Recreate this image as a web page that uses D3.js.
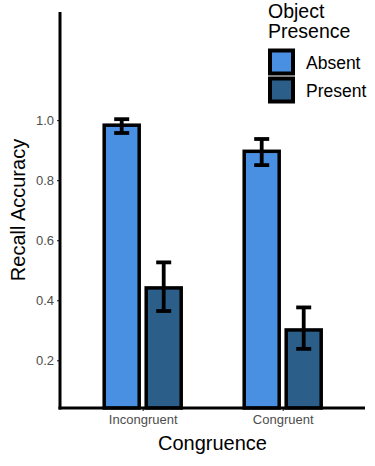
<!DOCTYPE html>
<html>
<head>
<meta charset="utf-8">
<script src="https://cdn.jsdelivr.net/npm/d3@7"></script>
<style>
  body { margin: 0; background: #fff; }
  svg { display: block; font-family: "Liberation Sans", Arial, sans-serif; }
</style>
</head>
<body>
<div id="chart"></div>
<script>
// data
const categories = ["Incongruent", "Congruent"];
const groups = ["Absent", "Present"];
const means = [[0.983, 0.441], [0.896, 0.301]];     // [category][group]
const upper = [[1.003, 0.526], [0.937, 0.376]];
const lower = [[0.957, 0.364], [0.850, 0.238]];
const yTicks = [0.2, 0.4, 0.6, 0.8, 1.0];
const colors = ["#4a90e2", "#2c5e8a"];

const width = 375, height = 466;
const plotLeft = 60, plotRight = 366.7, plotTop = 12, plotBottom = 408;

const svg = d3.select("#chart").append("svg")
    .attr("width", width)
    .attr("height", height);

const x = d3.scalePoint().domain(categories).range([58.7, plotRight]).padding(0.6);
const step = x.step();
const dodge = d3.scaleBand().domain(groups).range([-0.3 * step, 0.3 * step]);
const barW = 0.25 * step;

const y = d3.scaleLinear().domain([0.041, 1.36]).range([plotBottom, plotTop]);

// bars + error bars
const rows = [];
categories.forEach((c, i) => groups.forEach((g, j) => {
    rows.push({ cat: c, grp: g, m: means[i][j], hi: upper[i][j], lo: lower[i][j], col: colors[j] });
}));

const cx = d => x(d.cat) + dodge(d.grp) + dodge.bandwidth() / 2;

svg.append("g").selectAll("rect")
    .data(rows)
    .enter().append("rect")
    .attr("x", d => cx(d) - barW / 2)
    .attr("y", d => y(d.m))
    .attr("width", barW)
    .attr("height", d => plotBottom - y(d.m))
    .attr("fill", d => d.col)
    .attr("stroke", "#000")
    .attr("stroke-width", 3.5);

const err = svg.append("g").attr("stroke", "#000").attr("stroke-width", 3.8);
rows.forEach(d => {
    const c = cx(d), w = 7.5;
    err.append("line").attr("x1", c).attr("x2", c).attr("y1", y(d.hi)).attr("y2", y(d.lo));
    err.append("line").attr("x1", c - w).attr("x2", c + w).attr("y1", y(d.hi)).attr("y2", y(d.hi));
    err.append("line").attr("x1", c - w).attr("x2", c + w).attr("y1", y(d.lo)).attr("y2", y(d.lo));
});

// y axis
const yAxis = svg.append("g")
    .attr("transform", `translate(${plotLeft},0)`)
    .call(d3.axisLeft(y).tickValues(yTicks).tickFormat(d3.format(".1f")).tickSize(3).tickPadding(3));
yAxis.select(".domain").remove();
yAxis.selectAll(".tick line").attr("stroke", "#333").attr("stroke-width", 1.2);
yAxis.selectAll(".tick text").attr("fill", "#4d4d4d").style("font-size", "13px")
    .style("font-family", "Liberation Sans, Arial, sans-serif");

// x axis
const xAxis = svg.append("g")
    .attr("transform", `translate(0,${plotBottom})`)
    .call(d3.axisBottom(x).tickSize(3).tickPadding(4));
xAxis.select(".domain").remove();
xAxis.selectAll(".tick line").attr("stroke", "#333").attr("stroke-width", 1.2);
xAxis.selectAll(".tick text").attr("fill", "#4d4d4d").style("font-size", "13px")
    .style("font-family", "Liberation Sans, Arial, sans-serif");

// axis lines
svg.append("line").attr("x1", plotLeft).attr("x2", plotLeft).attr("y1", plotTop).attr("y2", plotBottom + 1.5)
    .attr("stroke", "#000").attr("stroke-width", 3);
svg.append("line").attr("x1", plotLeft - 1.5).attr("x2", 365).attr("y1", plotBottom).attr("y2", plotBottom)
    .attr("stroke", "#000").attr("stroke-width", 3);

// axis titles
svg.append("text")
    .attr("x", (plotLeft + 365) / 2).attr("y", 450)
    .attr("text-anchor", "middle")
    .style("font-size", "20px")
    .text("Congruence");

svg.append("text")
    .attr("transform", `translate(25,${(plotTop + plotBottom) / 2}) rotate(-90)`)
    .attr("text-anchor", "middle")
    .style("font-size", "20px")
    .text("Recall Accuracy");

// legend
const legend = svg.append("g").attr("transform", "translate(268,0)");
legend.append("text").attr("x", 0).attr("y", 17.5).style("font-size", "19.5px").text("Object");
legend.append("text").attr("x", 0).attr("y", 38).style("font-size", "19.5px").text("Presence");

groups.forEach((g, i) => {
    const yy = 48.5 + i * 28;
    legend.append("rect")
        .attr("x", 2).attr("y", yy + 2)
        .attr("width", 23).attr("height", 23)
        .attr("fill", colors[i])
        .attr("stroke", "#000").attr("stroke-width", 4);
    legend.append("text")
        .attr("x", 38).attr("y", yy + 20)
        .style("font-size", "17.5px")
        .text(g);
});
</script>
</body>
</html>
